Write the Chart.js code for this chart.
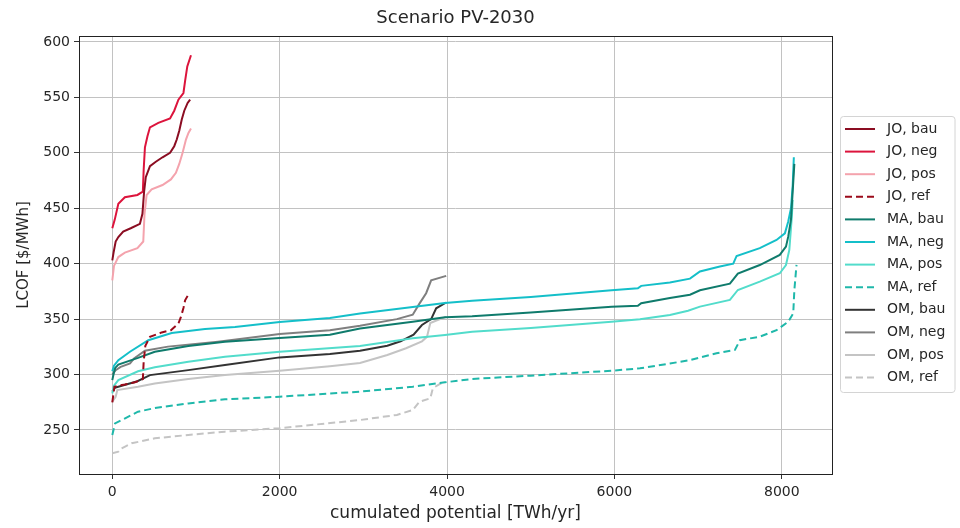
<!DOCTYPE html>
<html>
<head>
<meta charset="utf-8">
<script src="https://cdn.jsdelivr.net/npm/chart.js@4.4.0/dist/chart.umd.min.js"></script>
<style>
  html, body { margin: 0; padding: 0; background: #fff; }
  #wrap { width: 960px; height: 528px; }
</style>
</head>
<body>
<div id="wrap"><canvas id="chart" width="960" height="528"></canvas></div>
<script>
const chartTitle = 'Scenario PV-2030';
const xTitle = 'cumulated potential [TWh/yr]';
const yTitle = 'LCOF [$/MWh]';
const xTicks = [0, 2000, 4000, 6000, 8000];
const yTicks = [250, 300, 350, 400, 450, 500, 550, 600];

// [cumulated potential, LCOF]
const joBau = [[0,403],[15,410],[40,420],[72,424],[130,429],[220,432],[330,436],[360,445],[380,465],[400,478],[450,488],[520,492],[600,496],[690,500],[740,506],[770,512],[800,520],[830,530],[860,538],[900,545],[930,548]];
const joNeg = [[0,432],[30,440],[72,454],[150,460],[300,462],[365,465],[375,485],[390,505],[420,515],[450,523],[550,527],[690,531],[740,538],[790,548],[850,554],[870,565],[896,578],[940,588]];
const joPos = [[0,385],[20,398],[72,406],[150,410],[300,414],[370,420],[385,445],[410,462],[470,467],[600,471],[700,476],[760,482],[800,490],[840,500],[880,512],[910,518],[940,522]];
const joRef = [[0,275],[25,289],[72,290],[150,291],[270,293],[365,296],[375,312],[395,326],[450,334],[590,338],[700,340],[730,342],[790,346],[820,352],[850,360],[870,367],[900,371],[930,373]];

const maBau = [[0,295],[20,302],[35,306],[72,309],[307,315],[508,320.6],[908,325.8],[1346,329.7],[2000,333],[2600,336],[2960,341.6],[3590,347.7],[3975,351.7],[4300,352.5],[5000,356],[5966,361.2],[6280,362],[6320,364.3],[6663,369],[6903,372],[7022,376],[7380,382],[7475,391],[7737,398.8],[7976,407.9],[8050,415.4],[8077,424.4],[8110,440],[8130,465],[8150,490]];
const maNeg = [[0,303],[20,308],[72,313],[211,320.6],[430,331],[710,337.5],[1108,341],[1466,343],[2000,347.5],[2600,351],[2960,355],[3590,361],[3975,364.5],[4300,366.5],[5000,370],[5966,376],[6280,377.8],[6320,380],[6663,383],[6903,386.5],[7022,393],[7260,397.4],[7420,400],[7460,407],[7737,414],[7937,421.4],[8037,427.4],[8077,438],[8110,450],[8130,470],[8144,496]];
const maPos = [[0,283],[20,290],[72,295],[307,303],[508,306.6],[908,311.6],[1346,316],[2000,320.5],[2960,325.8],[3590,332.7],[3975,335.7],[4300,338.7],[5000,342],[5966,347.7],[6305,349.8],[6663,353.7],[6880,357.5],[7022,361.3],[7380,367.3],[7475,376.3],[7737,383.8],[7976,391.4],[8050,398.8],[8090,412.4],[8120,442.4],[8130,457.5]];
const maRef = [[0,245.5],[33,256],[153,260.5],[307,266.5],[508,269.8],[908,274],[1346,277.7],[2000,280],[2960,284.6],[3590,289],[3975,293],[4300,296],[5000,299],[5966,303.5],[6305,305.6],[6663,310],[6903,313],[7220,319.2],[7440,322.2],[7500,331],[7737,334.2],[7937,340],[8077,347.7],[8137,355.3],[8150,376],[8176,399]];

const omBau = [[0,284.6],[30,288],[72,289],[300,294],[450,299.5],[908,304],[1346,308.6],[2000,315.5],[2600,318.5],[2960,321.5],[3286,326],[3445,330],[3600,336],[3700,344.7],[3810,350],[3870,359.8],[3990,365]];
const omNeg = [[0,300],[40,304],[100,307],[212,310],[260,314.6],[390,321.5],[665,325.2],[1262,329.7],[2000,336.5],[2600,340],[2960,344],[3400,350],[3590,354],[3670,364],[3750,373.4],[3810,385],[3990,389]];
const omPos = [[0,275.5],[40,280],[60,286],[307,289],[508,292],[908,296],[1346,299.5],[2000,303.5],[2600,307.5],[2960,310.5],[3286,317.7],[3510,323.7],[3700,330],[3760,334],[3800,346.5],[3880,349],[3990,352]];
const omRef = [[0,229],[72,230.4],[100,233],[153,235],[231,238],[508,242.5],[908,245.5],[1346,248.5],[2000,251.6],[2960,259],[3400,263.6],[3590,268],[3670,275.5],[3800,278.6],[3830,287.6],[3900,291],[3975,293.6]];

const seriesLabels = ['JO, bau','JO, neg','JO, pos','JO, ref','MA, bau','MA, neg','MA, pos','MA, ref','OM, bau','OM, neg','OM, pos','OM, ref'];
const seriesData = [joBau, joNeg, joPos, joRef, maBau, maNeg, maPos, maRef, omBau, omNeg, omPos, omRef];
const seriesColors = ['#8b0d22','#dc143c','#f4a3ad','#9b0a1a','#0f7b6c','#14bfc9','#52dccb','#1fb8aa','#333333','#7f7f7f','#c4c4c4','#c4c4c4'];

const datasets = seriesData.map((pts, i) => ({
  label: seriesLabels[i],
  data: pts.map(p => ({x: p[0], y: p[1]})),
  borderColor: seriesColors[i],
  backgroundColor: seriesColors[i],
  borderWidth: 2,
  borderDash: seriesLabels[i].endsWith('ref') ? [7, 4] : [],
  pointRadius: 0,
  tension: 0,
  fill: false
}));

const fontFam = "'DejaVu Sans', sans-serif";
Chart.defaults.font.family = fontFam;

// frame, title and legend box like the matplotlib figure
const decorations = {
  id: 'decorations',
  afterDraw(chart) {
    const ctx = chart.ctx;
    const a = chart.chartArea;
    ctx.save();
    ctx.strokeStyle = '#222';
    ctx.lineWidth = 1;
    ctx.strokeRect(Math.round(a.left) + 0.5, Math.round(a.top) + 0.5, Math.round(a.right - a.left), Math.round(a.bottom - a.top));

    ctx.fillStyle = '#262626';
    ctx.font = '18px ' + fontFam;
    ctx.textAlign = 'center';
    ctx.textBaseline = 'middle';
    ctx.fillText(chartTitle, (a.left + a.right) / 2, 18);

    const x0 = 840.5, y0 = 116.5, w = 114.5, h = 276;
    ctx.fillStyle = 'rgba(255,255,255,0.85)';
    ctx.strokeStyle = '#d4d4d4';
    ctx.beginPath();
    ctx.roundRect(x0, y0, w, h, 3);
    ctx.fill();
    ctx.stroke();
    ctx.textAlign = 'left';
    ctx.font = '14px ' + fontFam;
    chart.data.datasets.forEach((ds, i) => {
      const y = 129 + i * 22.6;
      ctx.strokeStyle = ds.borderColor;
      ctx.lineWidth = ds.borderWidth;
      ctx.setLineDash(ds.borderDash);
      ctx.beginPath();
      ctx.moveTo(845, y);
      ctx.lineTo(875, y);
      ctx.stroke();
      ctx.setLineDash([]);
      ctx.fillStyle = '#262626';
      ctx.fillText(ds.label, 887, y);
    });
    ctx.restore();
  }
};

new Chart(document.getElementById('chart'), {
  type: 'line',
  data: { datasets: datasets },
  plugins: [decorations],
  options: {
    responsive: false,
    animation: false,
    events: [],
    layout: { padding: { top: 36, right: 128, left: 0, bottom: 0 } },
    plugins: { legend: { display: false }, title: { display: false }, tooltip: { enabled: false } },
    scales: {
      x: {
        type: 'linear',
        min: -398,
        max: 8600,
        afterFit: s => { s.height = 54; },
        afterBuildTicks: s => { s.ticks = xTicks.map(v => ({ value: v })); },
        grid: { color: '#c2c2c2', lineWidth: 1, tickLength: 5, tickColor: '#333' },
        border: { display: false },
        ticks: { font: { size: 14 }, color: '#262626', padding: 5, maxRotation: 0, autoSkip: false, callback: v => String(v) },
        title: { display: true, text: xTitle, font: { size: 17 }, color: '#262626', padding: { top: 0, bottom: 4 } }
      },
      y: {
        type: 'linear',
        min: 210.3,
        max: 605.4,
        afterFit: s => { s.width = 79; },
        afterBuildTicks: s => { s.ticks = yTicks.map(v => ({ value: v })); },
        grid: { color: '#c2c2c2', lineWidth: 1, tickLength: 5, tickColor: '#333' },
        border: { display: false },
        ticks: { font: { size: 14 }, color: '#262626', padding: 4, callback: v => String(v) },
        title: { display: true, text: yTitle, font: { size: 15 }, color: '#262626', padding: { top: 15, bottom: 0 } }
      }
    }
  }
});
</script>
</body>
</html>
